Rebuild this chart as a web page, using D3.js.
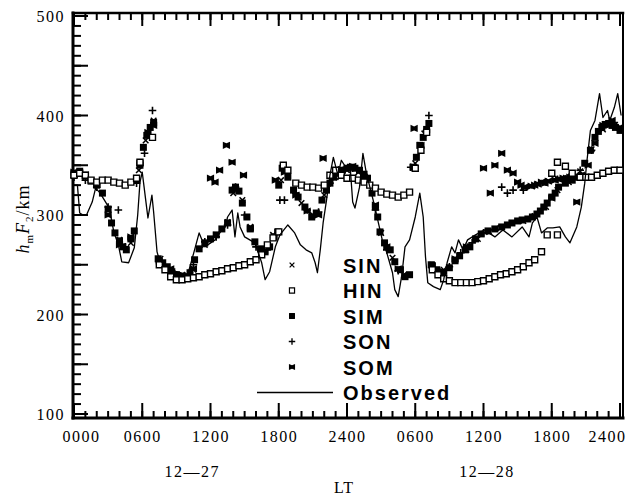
<!DOCTYPE html>
<html>
<head>
<meta charset="utf-8">
<style>
  body { margin: 0; background: #fff; color: #000; }
  svg { display: block; color: #000; }
  .tick text { font-family: "Liberation Serif", "Times New Roman", serif; font-size: 16px; letter-spacing: 1.5px; fill: #000; }
</style>
</head>
<body>
<svg width="629" height="495"></svg>
<div id="note" style="position:absolute;top:0;left:0;width:1px;height:1px"></div>
<script src="https://d3js.org/d3.v7.min.js"></script>
<script>
// ---- data: [hour LT from 0000 on 12-27, hmF2 km] ----
const observed = [[0,330],[0.3,330],[0.5,302],[0.8,300],[1.1,300],[1.6,313],[1.9,327],[2.3,322],[3.1,307],[3.5,283],
  [3.9,270],[4.2,253],[4.8,252],[5.3,267],[5.6,300],[5.8,333],[6.0,343],[6.25,320],[6.5,297],[6.85,320],[7.0,303],
  [7.3,263],[7.5,255],[8.0,250],[9.0,243],[10.0,240],[10.6,265],[11.0,282],[11.5,268],[12.4,275],[13.0,285],[13.3,288],
  [13.5,298],[13.9,305],[14.15,278],[14.4,302],[14.6,288],[15.0,278],[15.9,272],[16.5,252],[16.8,235],[17.2,243],
  [17.7,268],[18.1,280],[18.8,290],[19.4,282],[19.9,270],[20.4,265],[20.9,262],[21.2,252],[21.4,242],[21.65,265],
  [21.9,292],[22.2,315],[22.5,340],[22.8,358],[23.2,340],[23.5,355],[23.9,348],[24.3,345],[24.5,313],[24.7,307],
  [25.1,328],[25.4,362],[25.7,342],[26.3,315],[26.7,295],[27.1,275],[27.5,262],[28.0,242],[28.2,225],[28.5,218],
  [28.8,238],[29.1,268],[29.5,275],[30.0,298],[30.4,322],[30.7,298],[30.9,258],[31.1,232],[31.6,228],[32.2,225],
  [32.5,235],[32.8,252],[33.2,268],[33.5,262],[33.8,275],[34.2,265],[34.6,275],[35.3,280],[36.1,285],[37.0,278],
  [37.7,285],[38.5,278],[39.4,288],[40.0,278],[40.3,292],[40.7,298],[41.1,282],[41.6,287],[42.1,287],[42.7,288],
  [43.2,278],[43.6,272],[44.2,288],[44.6,308],[44.9,332],[45.1,355],[45.4,385],[45.8,395],[46.2,422],[46.5,398],
  [46.9,405],[47.1,395],[47.5,408],[47.8,422],[48.1,400]];

const SIM = [[0,342],[0.5,344],[1,340],[1.5,334],[2,330],[2.5,322],[3,306],[3.3,292],[3.6,282],[4,274],[4.3,268],
  [4.6,265],[5,276],[5.3,284],[5.5,335],[5.8,350],[6.1,368],[6.4,380],[6.7,388],[7,393],[7.4,256],[7.8,252],[8.2,248],
  [8.6,243],[9,240],[9.4,238],[9.8,238],[10.2,242],[10.6,255],[11,266],[11.5,272],[12,276],[12.5,280],[13,286],
  [13.5,292],[13.9,325],[14.2,328],[14.5,324],[14.8,312],[15.2,298],[15.5,286],[15.9,273],[16.4,266],[16.8,263],
  [17.2,268],[17.6,278],[17.9,283],[18.0,330],[18.3,347],[18.8,338],[19.3,325],[19.7,318],[20.3,308],[20.9,298],
  [21.3,302],[21.8,315],[22.2,325],[22.5,332],[22.8,338],[23.2,342],[23.6,345],[24,347],[24.3,348],[24.7,347],
  [25.1,345],[25.5,341],[25.8,337],[26.2,322],[26.5,308],[26.7,298],[26.9,283],[27.3,272],[27.8,265],[28.2,253],
  [28.7,245],[29.1,238],[29.5,240],[29.8,348],[30.1,358],[30.4,370],[30.7,378],[31.0,386],[31.2,392],[31.4,250],
  [31.9,245],[32.4,242],[33,247],[33.5,254],[33.9,259],[34.4,265],[34.8,268],[35.3,276],[35.8,281],[36.4,284],
  [37,286],[37.6,288],[38.1,290],[38.5,292],[39,294],[39.4,295],[39.9,296],[40.3,298],[40.7,301],[41,304],[41.3,308],
  [41.6,312],[42,318],[42.3,322],[42.6,328],[43.2,332],[43.8,335],[44.3,338],[44.9,352],[45.4,365],[45.8,378],
  [46.1,384],[46.4,388],[46.7,391],[47,392],[47.3,390],[47.6,388],[48,385]];

const HIN = [[0,340],[0.5,342],[1,340],[1.5,335],[2,333],[2.5,335],[3,335],[3.5,333],[4,332],[4.5,330],[5,333],
  [5.5,337],[5.8,353],[6.9,378],[7.5,250],[8,245],[8.5,238],[9,235],[9.5,235],[10,236],[10.5,237],[11,238],
  [11.5,240],[12,241],[12.5,243],[13,244],[13.5,246],[14,247],[14.5,249],[15,250],[15.5,253],[16,255],[16.5,260],
  [17,270],[17.5,277],[18,283],[18.4,350],[18.8,345],[19.5,332],[20,330],[20.5,328],[21,328],[21.5,327],
  [22,330],[22.5,340],[23,345],[23.5,340],[24,337],[24.5,337],[25,335],[25.5,333],[26,330],[26.5,327],[27,323],
  [27.5,321],[28,320],[28.5,318],[29,320],[29.5,323],[30,347],[30.5,365],[31,383],[31.5,245],[32,240],[32.5,236],
  [33,234],[33.5,232],[34,232],[34.5,232],[35,232],[35.5,233],[36,234],[36.5,236],[37,238],[37.5,240],[38,241],
  [38.5,243],[39,245],[39.5,248],[40,252],[40.5,255],[41.1,263],[41.6,280],[42.5,280],[42,342],[42.5,353],[43.2,349],
  [43.8,342],[44.5,338],[45,338],[45.5,338],[46,340],[46.5,342],[47,344],[47.5,345],[48,345]];

const SIN = [[0,340],[1,338],[2,330],[3,305],[4,275],[5,272],[5.7,345],[6.3,375],[7,395],[7.6,256],[8.5,245],
  [9.5,240],[10.5,245],[11.5,270],[12.5,280],[13.5,293],[14,322],[14.8,315],[15.5,288],[16.5,262],[17.5,280],
  [18.2,335],[20,312],[21,300],[22,320],[23,338],[24,345],[25,343],[26,330],[27,282],[28,257],[29,240],
  [30,352],[30.8,382],[31.5,250],[32.5,245],[33.5,255],[34.5,265],[35.5,276],[36.5,283],[37.5,287],[38.5,292],
  [39.5,294],[40.5,299],[41.5,308],[42.5,325],[43.5,333],[44.5,344],[45.5,366],[46.5,386],[47.5,390]];

const SON = [[0,338],[1,335],[2,328],[3,308],[3.9,305],[4.5,268],[5.5,332],[6.2,362],[6.9,405],[7.5,253],[8.5,243],
  [9.5,238],[10.5,250],[11.5,273],[12.5,278],[13.5,290],[14.2,328],[15,300],[16,268],[17,265],[18.1,315],[18.5,315],
  [19.5,322],[20.5,305],[21.5,303],[22.5,332],[23.5,343],[24.5,347],[25.5,340],[26.5,305],[27.5,265],[28.5,244],
  [29.6,348],[31.2,400],[32,244],[33,248],[34,262],[35,272],[36,282],[37.6,328],[38.1,322],[38.6,325],[39.5,325],
  [40.5,330],[41.5,333],[42.5,336],[43.5,338],[44.5,345],[45.5,365],[46.5,390],[47.5,393]];

const SOM = [[0,343],[1,340],[2,331],[3,300],[4,270],[5,278],[5.8,352],[6.5,383],[7,390],[7.5,254],[8.5,246],
  [9.5,239],[10.5,246],[12,337],[12.4,333],[12.8,345],[13.4,370],[13.9,353],[14.9,340],[15.5,287],[16.5,265],
  [17.7,335],[18.5,343],[19.5,320],[20.5,304],[21.5,300],[21.9,357],[22.8,338],[23.5,346],[24.5,349],[25.5,338],
  [26.5,310],[27.5,268],[28.5,246],[29.9,387],[30.5,370],[31.5,249],[32.5,243],[33.5,256],[34.5,268],[36,347],
  [36.6,322],[37,350],[37.6,362],[38.1,345],[38.6,342],[39,333],[39.3,330],[39.6,328],[40.2,329],[40.5,330],
  [40.8,331],[41.1,333],[41.4,332],[41.7,334],[42,317],[42.3,335],[42.6,336],[43,337],[43.3,337],[43.6,338],
  [44,338],[44.2,313],[44.6,340],[45.2,350],[45.8,372],[46.5,390],[47.3,395],[48,388]];

const legendNames = ["SIN", "HIN", "SIM", "SON", "SOM", "Observed"];
const yLabelTicks = [100, 200, 300, 400, 500];
const yLongTicks = [100, 150, 200, 250, 300, 350, 400, 450, 500];
const yShortTicks = d3.range(100, 501, 10);
const xMajor = [0, 6, 12, 18, 24, 30, 36, 42, 48];
const xMinor = d3.range(0, 49, 1);
const xLabels = ["0000", "0600", "1200", "1800", "2400", "0600", "1200", "1800", "2400"];
const dayLabels = [["12\u201427", 10.4], ["12\u201428", 36.3]];

// ---- layout ----
const frame = {left: 73, right: 623, top: 13, bottom: 418};
const svg = d3.select("svg");

const x = d3.scaleLinear().domain([0, 48]).range([74, 620]);
const y = d3.scaleLinear().domain([96, 503]).range([frame.bottom, frame.top]);

const symbols = {
  SIN: {d: "M-2.8,-2.8L2.8,2.8M-2.8,2.8L2.8,-2.8", fill: "none", stroke: "#000", sw: 1.5},
  HIN: {d: "M-3,-3h6v6h-6z", fill: "#fff", stroke: "#000", sw: 1.4},
  SIM: {d: "M-3.5,-3.5h7v7h-7z", fill: "#000", stroke: "none", sw: 0},
  SON: {d: "M-3.8,0H3.8M0,-3.8V3.8", fill: "none", stroke: "#000", sw: 1.6},
  SOM: {d: "M-3.6,-3.6L0,-2L3.6,-3.6V3.6L0,2L-3.6,3.6Z", fill: "#000", stroke: "none", sw: 0}
};

// tick marks (inward), as small lines in their own group
const ticks = svg.append("g").attr("stroke", "#000").attr("stroke-width", 2);
ticks.selectAll(".ys").data(yShortTicks).join("line").attr("class", "ys")
  .attr("x1", frame.left).attr("x2", frame.left + 8)
  .attr("y1", d => y(d)).attr("y2", d => y(d));
ticks.selectAll(".yl").data(yLongTicks).join("line").attr("class", "yl")
  .attr("x1", frame.left).attr("x2", frame.left + 15)
  .attr("y1", d => y(d)).attr("y2", d => y(d));
ticks.selectAll(".xbs").data(xMinor).join("line").attr("class", "xbs")
  .attr("x1", d => x(d)).attr("x2", d => x(d))
  .attr("y1", frame.bottom).attr("y2", frame.bottom - 7);
ticks.selectAll(".xbl").data(xMajor).join("line").attr("class", "xbl")
  .attr("x1", d => x(d)).attr("x2", d => x(d))
  .attr("y1", frame.bottom).attr("y2", frame.bottom - 15);
ticks.selectAll(".xts").data(xMinor).join("line").attr("class", "xts")
  .attr("x1", d => x(d)).attr("x2", d => x(d))
  .attr("y1", frame.top).attr("y2", frame.top + 7);
ticks.selectAll(".xtl").data(xMajor).join("line").attr("class", "xtl")
  .attr("x1", d => x(d)).attr("x2", d => x(d))
  .attr("y1", frame.top).attr("y2", frame.top + 13);

// frame
const frameG = svg.append("g").attr("stroke", "#000").attr("stroke-linecap", "square");
frameG.append("line").attr("x1", frame.left).attr("x2", frame.left).attr("y1", frame.top).attr("y2", frame.bottom).attr("stroke-width", 3);
frameG.append("line").attr("x1", frame.left).attr("x2", frame.right).attr("y1", frame.bottom).attr("y2", frame.bottom).attr("stroke-width", 3);
frameG.append("line").attr("x1", frame.left).attr("x2", frame.right).attr("y1", frame.top).attr("y2", frame.top).attr("stroke-width", 2.5);
frameG.append("line").attr("x1", frame.right).attr("x2", frame.right).attr("y1", frame.top).attr("y2", frame.bottom).attr("stroke-width", 2);

// axis labels from d3 axes
svg.append("g").attr("transform", `translate(${frame.left},0)`)
  .call(d3.axisLeft(y).tickValues(yLabelTicks).tickSize(0).tickPadding(8))
  .call(g => g.select(".domain").remove())
  .call(g => g.selectAll("text").attr("dy", "0.36em"));

svg.append("g").attr("transform", `translate(0,${frame.bottom})`)
  .call(d3.axisBottom(x).tickValues(xMajor).tickSize(0).tickPadding(13)
    .tickFormat((d, i) => xLabels[i]))
  .call(g => g.select(".domain").remove())
  .call(g => g.selectAll("text").attr("dx", (d, i) => i === 0 ? 7 : i === xMajor.length - 1 ? -13 : 0));

// series markers
function plotSeries(name, data) {
  const s = symbols[name];
  svg.append("g").selectAll("path")
    .data(data)
    .join("path")
    .attr("transform", d => `translate(${x(d[0])},${y(d[1])})`)
    .attr("d", s.d)
    .attr("fill", s.fill)
    .attr("stroke", s.stroke)
    .attr("stroke-width", s.sw);
}
plotSeries("SIM", SIM);
plotSeries("SOM", SOM);
plotSeries("SIN", SIN);
plotSeries("SON", SON);
plotSeries("HIN", HIN);

// observed line
svg.append("path")
  .datum(observed)
  .attr("fill", "none")
  .attr("stroke", "#000")
  .attr("stroke-width", 1.3)
  .attr("stroke-linejoin", "round")
  .attr("d", d3.line().x(d => x(d[0])).y(d => y(d[1])));

// legend
const legend = svg.append("g");
legendNames.forEach((name, i) => {
  const ly = 265 + i * 25.5;
  if (name === "Observed") {
    legend.append("line").attr("x1", 257).attr("x2", 333).attr("y1", ly).attr("y2", ly)
      .attr("stroke", "#000").attr("stroke-width", 1.3);
  } else {
    const s = symbols[name];
    legend.append("path").attr("transform", `translate(292,${ly}) scale(0.85)`).attr("d", s.d)
      .attr("fill", s.fill).attr("stroke", s.stroke).attr("stroke-width", s.sw);
  }
  legend.append("text").attr("x", 343).attr("y", ly + 7.5)
    .attr("font-family", "Liberation Sans, Arial, sans-serif")
    .attr("font-size", 20).attr("font-weight", "bold").attr("letter-spacing", 2)
    .text(name);
});

// y title
const yt = svg.append("text")
  .attr("transform", "translate(29,219) rotate(-90)")
  .attr("text-anchor", "middle")
  .attr("font-family", "Liberation Serif, Times New Roman, serif")
  .attr("font-size", 18)
  .attr("letter-spacing", 1);
yt.append("tspan").attr("font-style", "italic").text("h");
yt.append("tspan").attr("font-size", 11).attr("dy", 4).text("m");
yt.append("tspan").attr("font-style", "italic").attr("dy", -4).text("F");
yt.append("tspan").attr("font-size", 11).attr("dy", 4).text("2");
yt.append("tspan").attr("dy", -4).text("/km");

// day labels and LT
dayLabels.forEach(([label, h]) => {
  svg.append("text").attr("x", x(h)).attr("y", 477).attr("text-anchor", "middle")
    .attr("font-family", "Liberation Serif, Times New Roman, serif")
    .attr("font-size", 16).attr("letter-spacing", 1.5)
    .text(label);
});
svg.append("text").attr("x", 344).attr("y", 493).attr("text-anchor", "middle")
  .attr("font-family", "Liberation Serif, Times New Roman, serif")
  .attr("font-size", 16).attr("letter-spacing", 1)
  .text("LT");
</script>
</body>
</html>
